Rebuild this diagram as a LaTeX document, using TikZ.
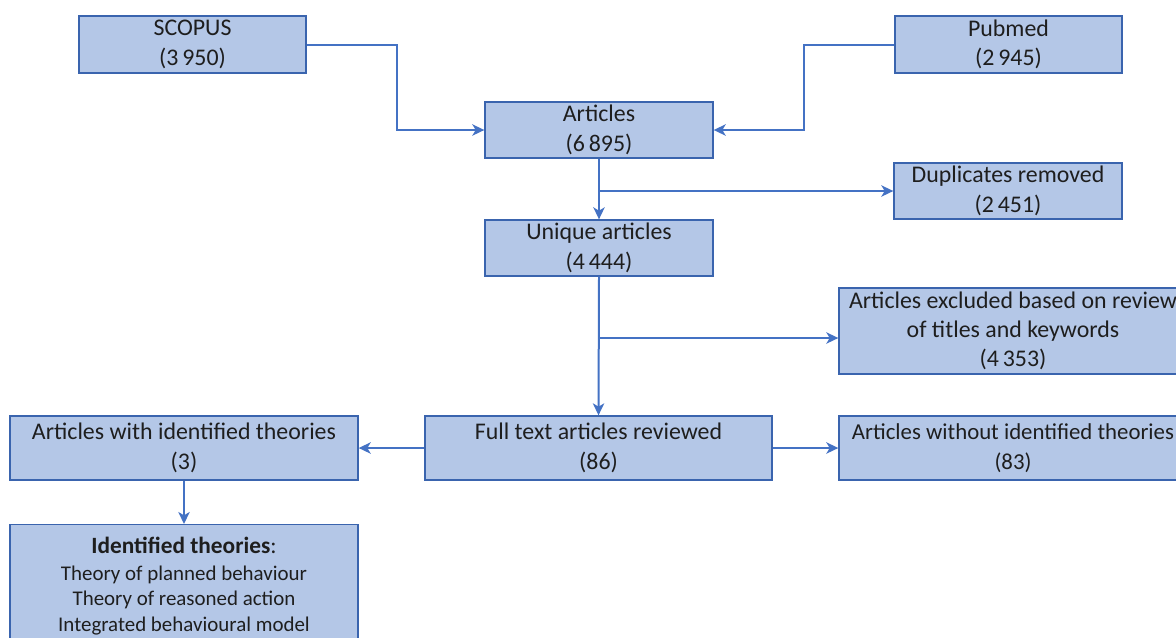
\documentclass[tikz,border=0pt]{standalone}
\usepackage{fontspec}
\setmainfont{Carlito}
\usetikzlibrary{arrows.meta}
\definecolor{boxfill}{HTML}{B4C7E7}
\definecolor{boxline}{HTML}{3A64AE}
\definecolor{flow}{HTML}{4472C4}
\definecolor{ink}{HTML}{1E1E1E}
\newdimen\pxu \pxu=0.75pt
\tikzset{
  stagebox/.style={draw=boxline, fill=boxfill, line width=1pt, inner sep=0pt,
    align=center, text=ink, font=\fontsize{17.9pt}{22pt}\selectfont},
  flowline/.style={draw=flow, line width=1.5pt},
  flowarrow/.style={flowline, -{Stealth[length=9pt,width=8.5pt,inset=2.5pt]}},
}
\begin{document}
\begin{tikzpicture}[x=0.75pt,y=-0.75pt]
\useasboundingbox (0,0) rectangle (1176,637);

% sources
\node[stagebox, minimum width=227\pxu, minimum height=57\pxu] (scopus) at (192.5,44.5) {SCOPUS\\(3\,950)};
\node[stagebox, minimum width=227\pxu, minimum height=57\pxu] (pubmed) at (1008.5,44.5) {Pubmed\\(2\,945)};

% main screening column
\node[stagebox, minimum width=228\pxu, minimum height=56\pxu] (articles) at (599,130) {Articles\\(6\,895)};
\node[stagebox, minimum width=228\pxu, minimum height=56\pxu] (dupl) at (1008,191) {Duplicates removed\\(2\,451)};
\node[stagebox, minimum width=228\pxu, minimum height=56\pxu] (unique) at (599,248) {Unique articles\\(4\,444)};
\node[stagebox, minimum width=348\pxu, minimum height=86\pxu] (excl) at (1013,331) {Articles excluded based on review\\of titles and keywords\\(4\,353)};
\node[stagebox, minimum width=347\pxu, minimum height=64\pxu] (full) at (598.5,448) {Full text articles reviewed\\(86)};
\node[stagebox, minimum width=348\pxu, minimum height=64\pxu,
      font=\fontsize{17.1pt}{22pt}\selectfont] (without) at (1013,448) {Articles without identified theories\\(83)};
\node[stagebox, minimum width=348\pxu, minimum height=64\pxu] (with) at (184,448) {Articles with identified theories\\(3)};

% theories box
\node[stagebox, minimum width=348\pxu, minimum height=136\pxu, anchor=north] (theo) at (184,524) {};
\node[anchor=north, align=center, text=ink, inner sep=0pt,
      font=\fontsize{15.7pt}{19pt}\selectfont] (theotext) at (184,537)
  {{\fontsize{17.5pt}{20pt}\selectfont\textbf{Identified theories}:}\\[1pt]
   Theory of planned behaviour\\Theory of reasoned action\\Integrated behavioural model};

% connectors
\coordinate (sj) at (397,44.5);
\coordinate (pj) at (804,44.5);
\draw[flowarrow] (scopus.east) -- (sj) |- (articles.west);
\draw[flowarrow] (pubmed.west) -- (pj) |- (articles.east);

\draw[flowarrow] (articles.south) -- (unique.north);
\coordinate (dj) at (598,191);
\draw[flowarrow] (dj) -- (dupl.west);

\draw[flowarrow] (unique.south) -- (full.north);
\coordinate (ej) at (598,338);
\draw[flowarrow] (ej) -- (ej -| excl.west);

\draw[flowarrow] (full.west) -- (with.east);
\draw[flowarrow] (full.east) -- (without.west);
\draw[flowarrow] (with.south) -- (theo.north);
\end{tikzpicture}
\end{document}
